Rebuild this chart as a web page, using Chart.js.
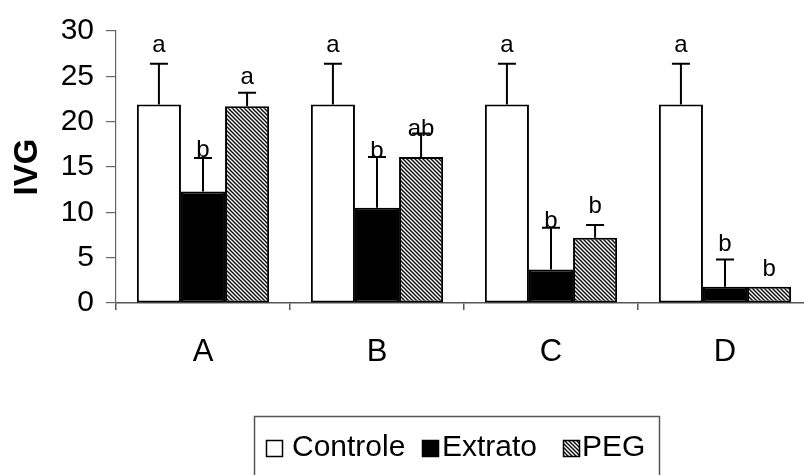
<!DOCTYPE html>
<html>
<head>
<meta charset="utf-8">
<script src="https://cdn.jsdelivr.net/npm/chart.js@4/dist/chart.umd.min.js"></script>
<style>
  html, body { margin: 0; padding: 0; overflow: hidden; background: #fff; }
</style>
</head>
<body>
<canvas id="ivgChart" width="812" height="475"></canvas>
<script>
const categories = ['A', 'B', 'C', 'D'];
const yTicks = [0, 5, 10, 15, 20, 25, 30];

const controle = [21.9, 21.9, 21.9, 21.9];
const controleErr = [4.5, 4.5, 4.5, 4.5];
const controleLetters = ['a', 'a', 'a', 'a'];

const extrato = [12.3, 10.5, 3.7, 1.8];
const extratoErr = [3.7, 5.6, 4.6, 3.0];
const extratoLetters = ['b', 'b', 'b', 'b'];

const peg = [21.7, 16.1, 7.2, 1.8];
const pegErr = [1.5, 2.6, 1.4, 0];
const pegLetters = ['a', 'ab', 'b', 'b'];

const FONT = '"Liberation Sans", Arial, sans-serif';

// diagonal hatch used for the PEG bars
function makeHatch() {
  const c = document.createElement('canvas');
  c.width = 4; c.height = 4;
  const g = c.getContext('2d');
  g.fillStyle = '#fff';
  g.fillRect(0, 0, 4, 4);
  g.strokeStyle = '#111';
  g.lineWidth = 1.5;
  g.beginPath();
  g.moveTo(-1, -1); g.lineTo(5, 5);
  g.moveTo(3, -1); g.lineTo(5, 1);
  g.moveTo(-1, 3); g.lineTo(1, 5);
  g.stroke();
  return g.createPattern(c, 'repeat');
}
const hatch = makeHatch();

// how far each letter sits above its error bar (px)
const letterLift = [[12, 12, 12, 12], [1, -1, 0, 8], [9, -3, 12, 11]];

const errorBars = {
  id: 'errorBars',
  afterDatasetsDraw(chart) {
    const ctx = chart.ctx;
    const y = chart.scales.y;
    ctx.save();
    chart.data.datasets.forEach((ds, di) => {
      const meta = chart.getDatasetMeta(di);
      meta.data.forEach((bar, i) => {
        const err = ds.errors[i];
        let top = bar.y;
        if (err) {
          top = y.getPixelForValue(ds.data[i] + err);
          ctx.strokeStyle = '#000';
          ctx.lineWidth = 2;
          ctx.beginPath();
          ctx.moveTo(bar.x, bar.y);
          ctx.lineTo(bar.x, top);
          ctx.moveTo(bar.x - 9, top);
          ctx.lineTo(bar.x + 9, top);
          ctx.stroke();
        }
        ctx.fillStyle = '#000';
        ctx.font = '24px ' + FONT;
        ctx.textAlign = 'center';
        ctx.textBaseline = 'alphabetic';
        ctx.fillText(ds.letters[i], bar.x, top - letterLift[di][i]);
      });
    });
    ctx.restore();
  }
};

// boxed legend under the axis
const boxLegend = {
  id: 'boxLegend',
  afterDraw(chart) {
    const ctx = chart.ctx;
    const markerX = [266, 422, 563];
    const textX = [292, 442, 582];
    ctx.save();
    ctx.strokeStyle = '#555';
    ctx.lineWidth = 1.5;
    ctx.strokeRect(254.5, 416.5, 405, 80);
    ctx.font = '30px ' + FONT;
    ctx.textBaseline = 'alphabetic';
    ctx.textAlign = 'left';
    chart.data.datasets.forEach((ds, i) => {
      ctx.fillStyle = ds.backgroundColor;
      ctx.fillRect(markerX[i], 440, 17, 17);
      ctx.strokeStyle = '#000';
      ctx.lineWidth = 1.5;
      ctx.strokeRect(markerX[i] + 0.5, 440.5, 16, 16);
      ctx.fillStyle = '#000';
      ctx.fillText(ds.label, textX[i], 456);
    });
    ctx.restore();
  }
};

new Chart(document.getElementById('ivgChart'), {
  type: 'bar',
  data: {
    labels: categories,
    datasets: [
      { label: 'Controle', data: controle, errors: controleErr, letters: controleLetters,
        backgroundColor: '#fff', borderColor: '#000', borderWidth: 2, borderSkipped: false },
      { label: 'Extrato', data: extrato, errors: extratoErr, letters: extratoLetters,
        backgroundColor: '#000', borderColor: '#000', borderWidth: 2, borderSkipped: false },
      { label: 'PEG', data: peg, errors: pegErr, letters: pegLetters,
        backgroundColor: hatch, borderColor: '#000', borderWidth: 2, borderSkipped: false }
    ]
  },
  options: {
    responsive: false,
    animation: false,
    layout: { padding: { top: 31, right: 0, bottom: 0, left: 0 } },
    datasets: { bar: { categoryPercentage: 0.76, barPercentage: 1 } },
    plugins: { legend: { display: false }, tooltip: { enabled: false } },
    scales: {
      x: {
        grid: { offset: true, drawOnChartArea: false, tickLength: 7, color: '#555', lineWidth: 1.5 },
        border: { color: '#555', width: 1.5 },
        ticks: { color: '#000', font: { family: FONT, size: 31 }, padding: 24 },
        afterFit(scale) { scale.height = 172; }
      },
      y: {
        min: 0,
        max: 30,
        afterBuildTicks(scale) { scale.ticks = yTicks.map(v => ({ value: v })); },
        grid: { drawOnChartArea: false, tickLength: 10, color: '#666', lineWidth: 1.2 },
        border: { color: '#666', width: 1.2 },
        ticks: { color: '#000', font: { family: FONT, size: 30 }, padding: 12 },
        title: { display: true, text: 'IVG', color: '#000', font: { family: FONT, size: 33, weight: 'bold' }, padding: { top: 8, bottom: 0 } },
        afterFit(scale) { scale.width = 116; }
      }
    }
  },
  plugins: [errorBars, boxLegend]
});
</script>
</body>
</html>
